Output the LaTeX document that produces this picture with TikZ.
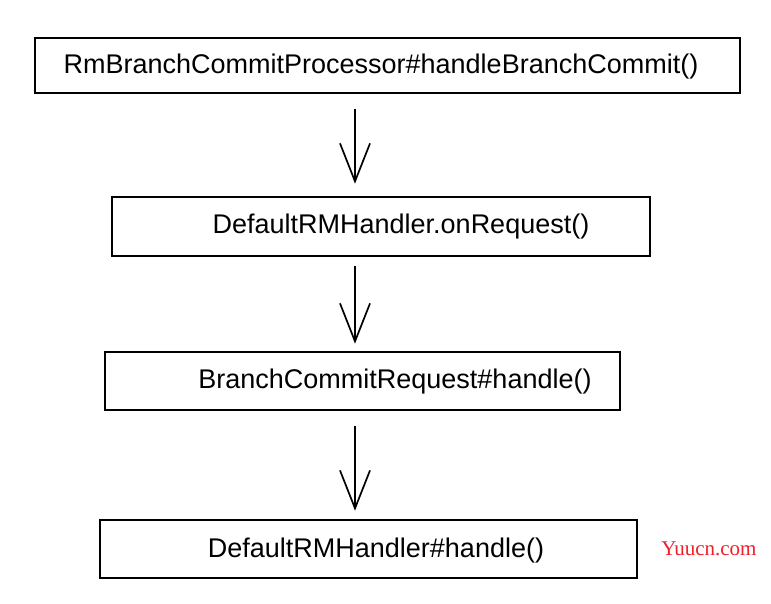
\documentclass[tikz,border=0pt]{standalone}
\usepackage{fontspec}
\setmainfont{Liberation Sans}
\newfontfamily\markfont{Liberation Serif}
\usetikzlibrary{arrows.meta}
\definecolor{markred}{RGB}{240,30,40}
\tikzset{
  callbox/.style={draw, line width=2.6pt, inner sep=0pt},
  calltext/.style={font=\fontsize{27}{31}\selectfont, inner sep=0pt},
  flow/.style={line width=1.7pt, -{Straight Barb[length=38pt,width=30pt,line width=1.7pt]}},
}
\begin{document}
\begin{tikzpicture}[x=1pt, y=-1pt]
      \useasboundingbox (0,0) rectangle (771,603);
      \coordinate (ax) at (355,0);
      % the four calls
      \node[callbox, minimum width=705pt, minimum height=55pt] (proc) at (387.5,65.5) {};
      \node[calltext] (proc-t) at (381,67) {RmBranchCommitProcessor\#handleBranchCommit()};
      \node[callbox, minimum width=538pt, minimum height=59pt] (onreq) at (381,226.5) {};
      \node[calltext] (onreq-t) at (401,227) {DefaultRMHandler.onRequest()};
      \node[callbox, minimum width=515pt, minimum height=58pt] (req) at (362.5,381) {};
      \node[calltext] (req-t) at (395,382) {BranchCommitRequest\#handle()};
      \node[callbox, minimum width=537pt, minimum height=58pt] (hdl) at (368.5,549) {};
      \node[calltext] (hdl-t) at (376,551) {DefaultRMHandler\#handle()};
      % arrows
      \draw[flow, shorten <=15pt, shorten >=12pt] (proc.south -| ax) -- (onreq.north -| ax);
      \draw[flow, shorten <=9pt, shorten >=7pt] (onreq.south -| ax) -- (req.north -| ax);
      \draw[flow, shorten <=15pt, shorten >=8pt] (req.south -| ax) -- (hdl.north -| ax);
      \node[font=\markfont\fontsize{21}{23}\selectfont, text=markred, inner sep=0pt] (mark) at (709,549) {Yuucn.com};
   \end{tikzpicture}
\end{document}
